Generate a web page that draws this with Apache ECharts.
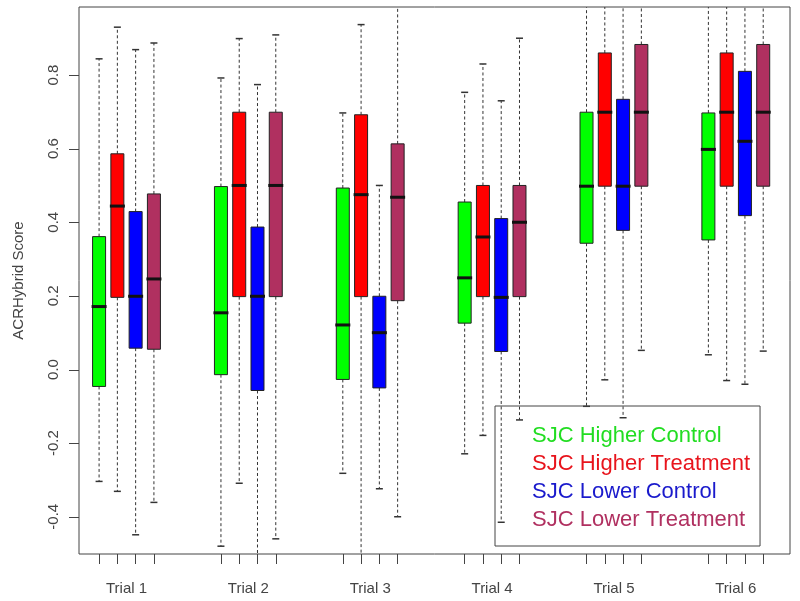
<!DOCTYPE html>
<html>
<head>
<meta charset="utf-8">
<script src="https://cdn.jsdelivr.net/npm/echarts@6/dist/echarts.min.js"></script>
<style>html,body{margin:0;padding:0;background:#fff}#c{width:800px;height:601px}</style>
</head>
<body>
<div id="c"></div>
<script>
// ---- data ----
const trials = ['Trial 1', 'Trial 2', 'Trial 3', 'Trial 4', 'Trial 5', 'Trial 6'];
const groupNames = ['SJC Higher Control', 'SJC Higher Treatment', 'SJC Lower Control', 'SJC Lower Treatment'];
const yTicks = [-0.4, -0.2, 0.0, 0.2, 0.4, 0.6, 0.8];
// each row: [whisker min, Q1, median, Q3, whisker max], one row per trial
const higherControl = [
  [-0.304, -0.046, 0.171, 0.361, 0.844],
  [-0.480, -0.014, 0.154, 0.497, 0.792],
  [-0.282, -0.027, 0.121, 0.493, 0.697],
  [-0.229, 0.126, 0.249, 0.455, 0.753],
  [-0.100, 0.343, 0.498, 0.699, 1.05],
  [0.040, 0.352, 0.598, 0.697, 1.05]
];
const higherTreatment = [
  [-0.331, 0.196, 0.444, 0.586, 0.930],
  [-0.309, 0.198, 0.500, 0.699, 0.899],
  [-0.60, 0.198, 0.475, 0.692, 0.937],
  [-0.179, 0.198, 0.360, 0.500, 0.830],
  [-0.028, 0.498, 0.699, 0.860, 1.05],
  [-0.030, 0.498, 0.699, 0.860, 1.05]
];
const lowerControl = [
  [-0.449, 0.058, 0.199, 0.429, 0.869],
  [-0.60, -0.057, 0.199, 0.387, 0.774],
  [-0.324, -0.050, 0.100, 0.199, 0.500],
  [-0.415, 0.049, 0.196, 0.410, 0.730],
  [-0.131, 0.378, 0.498, 0.734, 1.05],
  [-0.040, 0.418, 0.620, 0.810, 1.05]
];
const lowerTreatment = [
  [-0.361, 0.055, 0.246, 0.477, 0.887],
  [-0.460, 0.198, 0.500, 0.699, 0.909],
  [-0.400, 0.187, 0.468, 0.613, 1.05],
  [-0.137, 0.198, 0.400, 0.500, 0.900],
  [0.052, 0.498, 0.699, 0.883, 1.05],
  [0.050, 0.498, 0.699, 0.883, 1.05]
];
const groupData = [higherControl, higherTreatment, lowerControl, lowerTreatment];

// ---- styles / layout ----
const boxColors = ['#00ff00', '#ff0000', '#0000ff', '#b03060'];
const legendColors = ['#22dd22', '#e8141c', '#1a1acc', '#b03060'];
const slotOffsets = [-0.225, -0.075, 0.075, 0.225];
const FONT = 'Liberation Sans, Arial, sans-serif';
const BOX_HALF = 6.5;
const STAPLE_HALF = 3.5;
const TICK_LEN = 10;

const tickPositions = [];
trials.forEach((t, i) => slotOffsets.forEach(o => tickPositions.push(i + 1 + o)));

function renderBox(params, api) {
  const cs = params.coordSys;
  const top = cs.y, bottom = cs.y + cs.height;
  const x = api.value(0);
  const P = k => api.coord([x, api.value(k)]);
  const cx = P(1)[0];
  const clampY = y => Math.max(top, Math.min(bottom, y));
  const yMin = P(1)[1], yQ1 = P(2)[1], yMed = P(3)[1], yQ3 = P(4)[1], yMax = P(5)[1];
  const col = api.visual('color');
  const wStyle = { stroke: '#333', lineWidth: 1, lineDash: [3, 2.5] };
  const children = [];
  children.push({ type: 'line', shape: { x1: cx, y1: yQ3, x2: cx, y2: clampY(yMax) }, style: wStyle });
  if (yMax >= top) children.push({ type: 'line', shape: { x1: cx - STAPLE_HALF, y1: yMax, x2: cx + STAPLE_HALF, y2: yMax }, style: { stroke: '#333', lineWidth: 1.5 } });
  children.push({ type: 'line', shape: { x1: cx, y1: yQ1, x2: cx, y2: clampY(yMin) }, style: wStyle });
  if (yMin <= bottom) children.push({ type: 'line', shape: { x1: cx - STAPLE_HALF, y1: yMin, x2: cx + STAPLE_HALF, y2: yMin }, style: { stroke: '#333', lineWidth: 1.5 } });
  children.push({ type: 'rect', shape: { x: cx - BOX_HALF, y: yQ3, width: BOX_HALF * 2, height: yQ1 - yQ3 }, style: { fill: col, stroke: '#222', lineWidth: 1 } });
  children.push({ type: 'line', shape: { x1: cx - BOX_HALF - 1, y1: yMed, x2: cx + BOX_HALF + 1, y2: yMed }, style: { stroke: '#111', lineWidth: 3 } });
  return { type: 'group', children };
}

// y-axis tick marks (outward, R style), placed through the y scale
function renderYTick(params, api) {
  const cs = params.coordSys;
  const y = Math.round(api.coord([api.value(0), api.value(1)])[1]) + 0.5;
  return { type: 'line', shape: { x1: cs.x - TICK_LEN, y1: y, x2: cs.x, y2: y }, style: { stroke: '#444', lineWidth: 1 } };
}

const series = groupNames.map((name, g) => ({
  name,
  type: 'custom',
  renderItem: renderBox,
  itemStyle: { color: boxColors[g] },
  encode: { x: 0, y: [1, 2, 3, 4, 5] },
  data: groupData[g].map((row, i) => [i + 1 + slotOffsets[g]].concat(row)),
  z: 3
}));
series.push({
  type: 'custom', silent: true, clip: false,
  renderItem: renderYTick,
  encode: { x: 0, y: 1 },
  data: yTicks.map(v => [1, v]),
  z: 2
});

const chart = echarts.init(document.getElementById('c'), null, { renderer: 'canvas' });
chart.setOption({
  animation: false,
  backgroundColor: '#fff',
  grid: { left: 79, top: 7, right: 10, bottom: 47, show: true, borderColor: '#444', borderWidth: 1, backgroundColor: 'transparent' },
  xAxis: {
    type: 'value', min: 0.6102, max: 6.4448, position: 'bottom',
    axisLine: { show: false, onZero: false },
    splitLine: { show: false },
    axisTick: { show: true, length: TICK_LEN, customValues: tickPositions, lineStyle: { color: '#444' } },
    axisLabel: {
      customValues: [1, 2, 3, 4, 5, 6], margin: 27,
      formatter: v => trials[Math.round(v) - 1],
      color: '#444', fontSize: 15, fontFamily: FONT
    }
  },
  yAxis: {
    type: 'value', min: -0.5012, max: 0.9848, position: 'left',
    name: 'ACRHybrid Score', nameLocation: 'middle', nameGap: 53, nameRotate: 90,
    nameTextStyle: { color: '#444', fontSize: 15, fontFamily: FONT },
    axisLine: { show: false, onZero: false },
    splitLine: { show: false },
    axisTick: { show: false },
    axisLabel: {
      customValues: yTicks, rotate: 90, margin: 18,
      formatter: v => v.toFixed(1),
      color: '#444', fontSize: 15, fontFamily: FONT
    }
  },
  legend: {
    orient: 'vertical', left: 495, top: 406,
    padding: [17, 10, 13, 32], itemGap: 2, itemWidth: 0, itemHeight: 0, icon: 'none',
    selectedMode: false, borderColor: '#444', borderWidth: 1, backgroundColor: 'transparent',
    textStyle: { fontSize: 22, fontFamily: FONT, lineHeight: 26 },
    data: groupNames.map((n, i) => ({ name: n, textStyle: { color: legendColors[i] } }))
  },
  series
});
</script>
</body>
</html>
